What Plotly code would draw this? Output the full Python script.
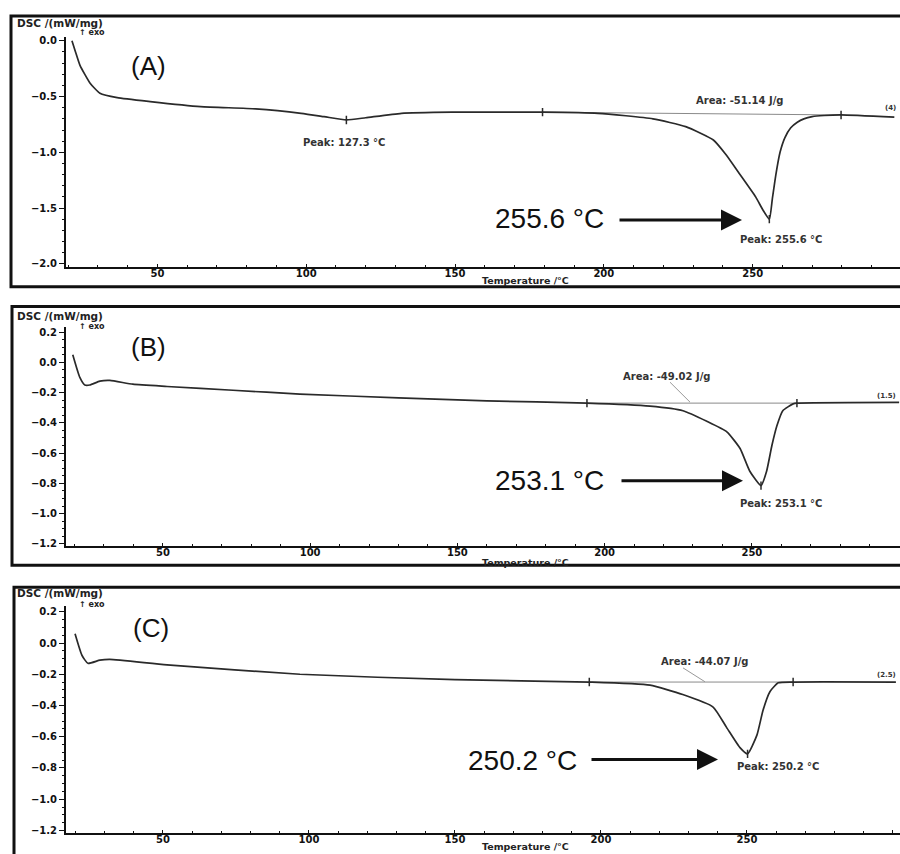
import plotly.graph_objects as go

W, H = 900, 854

# ---------------- data ----------------
A_temp = [21.3, 22.5, 24.0, 27.4, 30.7, 36.5, 47.6, 64.5, 83.0, 98.3, 106.0, 113.5, 120.0, 132.0,
          149.0, 179.4, 198.0, 216.5, 227.5, 236.8, 241.0, 245.5, 251.0, 253.5, 255.6, 256.6,
          257.8, 259.2, 260.8, 262.8, 265.0, 267.2, 270.0, 274.0, 279.7, 297.6]
A_dsc = [0.0, -0.10, -0.22, -0.38, -0.47, -0.51, -0.545, -0.59, -0.61, -0.65, -0.68, -0.71, -0.69,
         -0.65, -0.64, -0.64, -0.65, -0.70, -0.77, -0.89, -1.02, -1.19, -1.40, -1.52, -1.60, -1.42,
         -1.20, -1.00, -0.87, -0.78, -0.73, -0.70, -0.68, -0.67, -0.665, -0.685]
A_marks_T = [113.5, 179.4, 255.6, 279.7]
A_marks_v = [-0.71, -0.64, -1.60, -0.665]
A_base_T = [179.4, 279.7]
A_base_v = [-0.64, -0.665]

B_temp = [19.4, 21.8, 23.5, 25.2, 28.6, 32.0, 39.8, 51.4, 73.8, 96.5, 130.0, 160.0, 194.0, 215.4,
          226.6, 234.7, 241.5, 246.0, 249.3, 253.1, 255.0, 256.8, 258.5, 260.5, 264.0, 265.3, 300.0]
B_dsc = [0.05, -0.10, -0.15, -0.15, -0.125, -0.12, -0.145, -0.16, -0.185, -0.21, -0.235, -0.255,
         -0.27, -0.29, -0.32, -0.39, -0.46, -0.57, -0.72, -0.815, -0.72, -0.55, -0.42, -0.32,
         -0.275, -0.27, -0.265]
B_marks_T = [194.0, 253.1, 265.3]
B_marks_v = [-0.27, -0.815, -0.27]
B_base_T = [194.0, 265.3]
B_base_v = [-0.27, -0.27]

C_temp = [19.9, 22.3, 24.3, 28.4, 31.8, 51.4, 96.9, 150.0, 196.0, 216.8, 228.0, 238.4, 243.0,
          247.6, 250.2, 253.4, 255.5, 257.9, 260.7, 265.8, 301.0]
C_dsc = [0.06, -0.08, -0.13, -0.11, -0.105, -0.14, -0.20, -0.235, -0.25, -0.27, -0.33, -0.41,
         -0.54, -0.67, -0.71, -0.59, -0.43, -0.31, -0.255, -0.25, -0.25]
C_marks_T = [196.0, 250.2, 265.8]
C_marks_v = [-0.25, -0.71, -0.25]
C_base_T = [196.0, 265.8]
C_base_v = [-0.25, -0.25]

panel_labels = ["(A)", "(B)", "(C)"]
peak_texts = ["255.6 °C", "253.1 °C", "250.2 °C"]
peak_small = ["Peak: 255.6 °C", "Peak: 253.1 °C", "Peak: 250.2 °C"]
area_texts = ["Area: -51.14 J/g", "Area: -49.02 J/g", "Area: -44.07 J/g"]
end_tags = ["(4)", "(1.5)", "(2.5)"]


def px(x):
    return x / W


def py(y):
    return 1 - y / H


LINE = "#2a2a2a"
FONT_SMALL = dict(family="DejaVu Sans", size=10, color="#111", weight="bold")

fig = go.Figure()

panels = [
    dict(T=A_temp, v=A_dsc, mT=A_marks_T, mv=A_marks_v, bT=A_base_T, bv=A_base_v),
    dict(T=B_temp, v=B_dsc, mT=B_marks_T, mv=B_marks_v, bT=B_base_T, bv=B_base_v),
    dict(T=C_temp, v=C_dsc, mT=C_marks_T, mv=C_marks_v, bT=C_base_T, bv=C_base_v),
]
for i, p in enumerate(panels):
    xa = "x" if i == 0 else f"x{i+1}"
    ya = "y" if i == 0 else f"y{i+1}"
    fig.add_trace(go.Scatter(x=p["bT"], y=p["bv"], mode="lines", xaxis=xa, yaxis=ya,
                             line=dict(color="#8a8a8a", width=1), showlegend=False,
                             hoverinfo="skip"))
    fig.add_trace(go.Scatter(x=p["T"], y=p["v"], mode="lines", xaxis=xa, yaxis=ya,
                             line=dict(color=LINE, width=1.7, shape="spline", smoothing=0.5),
                             showlegend=False))
    fig.add_trace(go.Scatter(x=p["mT"], y=p["mv"], mode="markers", xaxis=xa, yaxis=ya,
                             marker=dict(symbol="line-ns", size=6, line=dict(color=LINE, width=1.5)),
                             showlegend=False))

# panel geometry (pixels)
geo = [
    dict(x0=66, top=36, bot=267, xr=[19.3, 299.5], yr=[-2.027, 0.036], dy=0.5, mdy=0.1),
    dict(x0=66, top=328, bot=548, xr=[17.1, 300.3], yr=[-1.217, 0.23], dy=0.2, mdy=0.05),
    dict(x0=66, top=608, bot=836, xr=[16.8, 302.4], yr=[-1.217, 0.236], dy=0.2, mdy=0.05),
]
layout = {}
for i, g in enumerate(geo):
    xk = "xaxis" if i == 0 else f"xaxis{i+1}"
    yk = "yaxis" if i == 0 else f"yaxis{i+1}"
    anchor_x = "y" if i == 0 else f"y{i+1}"
    anchor_y = "x" if i == 0 else f"x{i+1}"
    layout[xk] = dict(domain=[px(g["x0"]), 1.0], range=g["xr"], anchor=anchor_x,
                      showline=True, linecolor="#111", linewidth=2, showgrid=False,
                      zeroline=False, ticks="inside", ticklen=3, tickwidth=1.2, tickcolor="#111",
                      dtick=50, tick0=0, tickfont=FONT_SMALL, ticklabelstandoff=-4,
                      minor=dict(dtick=10, ticks="inside", ticklen=2, tickcolor="#111"))
    layout[yk] = dict(domain=[py(g["bot"]), py(g["top"])], range=g["yr"], anchor=anchor_y,
                      showline=True, linecolor="#111", linewidth=2, showgrid=False,
                      zeroline=False, ticks="outside", ticklen=5, tickwidth=1.2, tickcolor="#111",
                      dtick=g["dy"], tick0=0, tickformat=".1f", tickfont=FONT_SMALL,
                      minor=dict(dtick=g["mdy"], ticks="outside", ticklen=2, tickcolor="#111"))

annotations = []
shapes = []


def txt(x, y, s, size=10, xanchor="center", bold=True, family="DejaVu Sans", color="#222"):
    annotations.append(dict(x=px(x), y=py(y), xref="paper", yref="paper", text=s,
                            showarrow=False, xanchor=xanchor, yanchor="middle",
                            font=dict(family=family, size=size, color=color,
                                      weight="bold" if bold else "normal")))


def arrow(x0, x1, y):
    annotations.append(dict(x=px(x1), y=py(y), xref="paper", yref="paper", text="",
                            showarrow=True, ax=x0 - x1, ay=0, axref="pixel", ayref="pixel",
                            arrowhead=2, arrowsize=1.4, arrowwidth=3, arrowcolor="#111"))


# frames (left, top, bottom sides; right side outside the picture)
frames = [(11, 15, 287), (12, 307, 567), (14, 589, 860)]
for (fx, ft, fb) in frames:
    shapes.append(dict(type="path", xref="paper", yref="paper",
                       path=f"M 1.02,{py(ft)} L {px(fx)},{py(ft)} L {px(fx)},{py(fb)} L 1.02,{py(fb)}",
                       line=dict(color="#111", width=3)))

# per-panel texts
dsc_y = [22, 316, 595]
exo_y = [32, 327, 606]
lab_pos = [(148, 65), (148, 348), (151, 630)]
big_pos = [(606, 219), (606, 482), (579, 763)]
arr_pos = [(618, 742, 220), (620, 743, 482), (590, 718, 762)]
small_peak_pos = [(781, 240), (781, 505), (778, 769)]
area_pos = [(739, 100), (666, 377), (704, 664)]
tag_pos = [(898, 108), (898, 397), (898, 677)]
temp_y = [281, 564, 849]

for i in range(3):
    txt(15, dsc_y[i], "DSC /(mW/mg)", size=10.5, xanchor="left")
    txt(77, exo_y[i], "↑ exo", size=8, xanchor="left")
    txt(lab_pos[i][0], lab_pos[i][1], panel_labels[i], size=26, bold=False,
        family="Liberation Sans", color="#111")
    txt(big_pos[i][0], big_pos[i][1], peak_texts[i], size=28, xanchor="right", bold=False,
        family="Liberation Sans", color="#111")
    arrow(*arr_pos[i])
    txt(small_peak_pos[i][0], small_peak_pos[i][1], peak_small[i], size=10, color="#333")
    txt(area_pos[i][0], area_pos[i][1], area_texts[i], size=10, color="#333")
    txt(tag_pos[i][0], tag_pos[i][1], end_tags[i], size=7, xanchor="right", color="#333")
    txt(525, temp_y[i], "Temperature /°C", size=9.5, color="#222")

txt(344, 142, "Peak: 127.3 °C", size=10, color="#333")

# leader lines for the Area labels (B, C)
shapes.append(dict(type="line", xref="paper", yref="paper", x0=px(670), y0=py(383),
                   x1=px(690), y1=py(403), line=dict(color="#999", width=1)))
shapes.append(dict(type="line", xref="paper", yref="paper", x0=px(683), y0=py(670),
                   x1=px(705), y1=py(684), line=dict(color="#999", width=1)))

fig.update_layout(width=W, height=H, margin=dict(l=0, r=0, t=0, b=0),
                  paper_bgcolor="white", plot_bgcolor="white",
                  annotations=annotations, shapes=shapes, showlegend=False, **layout)

fig.write_html("out.html", config={"displayModeBar": False},
               post_script="document.body.style.margin='0px';document.body.style.overflow='hidden';")
